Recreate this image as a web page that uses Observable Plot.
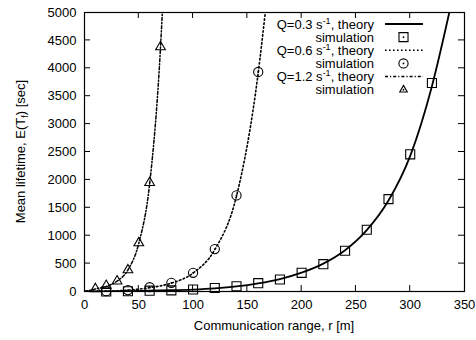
<!DOCTYPE html>
<html><head><meta charset="utf-8">
<script src="https://cdn.jsdelivr.net/npm/d3@7"></script>
<script src="https://cdn.jsdelivr.net/npm/@observablehq/plot@0.6"></script>
<style>
body{margin:0;background:#fff;}
#chart svg{font-family:"Liberation Sans",Arial,Helvetica,sans-serif;background:#fff;}
</style>
</head><body><div id="chart"></div>
<script>
// ---- data ----
const xTicks = [0, 50, 100, 150, 200, 250, 300, 350];
const yTicks = [0, 500, 1000, 1500, 2000, 2500, 3000, 3500, 4000, 4500, 5000];

// Q = 0.3 s^-1
const rTheory03 = [0, 20, 40, 60, 80, 100, 120, 140, 160, 180, 200, 220, 240, 260, 280, 300, 320, 336];
const theory03  = [0, 3, 8, 14, 22, 34, 55, 90, 145, 222, 338, 500, 740, 1100, 1630, 2430, 3680, 5000];
const rSim03 = [20, 40, 60, 80, 100, 120, 140, 160, 180, 200, 220, 240, 260, 280, 300, 320];
const sim03  = [0, 5, 15, 20, 36, 62, 95, 149, 215, 335, 490, 730, 1107, 1656, 2458, 3737];

// Q = 0.6 s^-1
const rTheory06 = [0, 20, 40, 60, 80, 100, 120, 140, 160, 166.5];
const theory06  = [0, 6, 25, 68, 150, 330, 750, 1710, 3920, 5000];
const rSim06 = [20, 40, 60, 80, 100, 120, 140, 160];
const sim06  = [5, 25, 77, 156, 335, 760, 1722, 3934];

// Q = 1.2 s^-1
const rTheory12 = [0, 10, 20, 30, 40, 50, 60, 70, 71.7];
const theory12  = [0, 45, 92, 185, 385, 865, 1930, 4370, 5000];
const rSim12 = [10, 20, 30, 40, 50, 60, 70];
const sim12  = [48, 105, 185, 385, 870, 1950, 4383];

const legendLabels = ["Q=0.3 s", "Q=0.6 s", "Q=1.2 s"];

// ---- tables ----
const zip = (xs, ys) => xs.map((x, i) => ({r: x, v: ys[i]}));
const t03 = zip(rTheory03, theory03), t06 = zip(rTheory06, theory06), t12 = zip(rTheory12, theory12);
const s03 = zip(rSim03, sim03), s06 = zip(rSim06, sim06), s12 = zip(rSim12, sim12);

const styles = [
  {stroke: "black", strokeWidth: 1.8},
  {stroke: "black", strokeWidth: 1.6, strokeDasharray: "1.6,2.4"},
  {stroke: "black", strokeWidth: 1.5, strokeDasharray: "3,2,1.2,2"}
];

const chart = Plot.plot({
  width: 476, height: 340,
  marginLeft: 84, marginRight: 12, marginTop: 12, marginBottom: 49,
  style: {fontFamily: '"Liberation Sans", Arial, sans-serif', fontSize: "13px", color: "black", background: "white"},
  x: {domain: [0, 350]},
  y: {domain: [0, 5000]},
  marks: [
    Plot.axisX({ticks: xTicks, tickSize: 0, tickPadding: 8, tickFormat: "d", label: null, fontSize: 13}),
    Plot.axisY({ticks: yTicks, tickSize: 0, tickPadding: 8, tickFormat: "d", label: null, fontSize: 13}),
    Plot.line(t03, {x: "r", y: "v", curve: "monotone-x", clip: true, ...styles[0]}),
    Plot.line(t06, {x: "r", y: "v", curve: "monotone-x", clip: true, ...styles[1]}),
    Plot.line(t12, {x: "r", y: "v", curve: "monotone-x", clip: true, ...styles[2]}),
    Plot.dot(s03, {x: "r", y: "v", symbol: "square", r: 5.1, stroke: "black", strokeWidth: 1.1, fill: "none"}),
    Plot.dot(s06, {x: "r", y: "v", symbol: "circle", r: 4.6, stroke: "black", strokeWidth: 1.1, fill: "none"}),
    Plot.dot(s06, {x: "r", y: "v", symbol: "circle", r: 0.9, fill: "black", stroke: "none"}),
    Plot.dot(s12, {x: "r", y: "v", symbol: "triangle", r: 3.6, stroke: "black", strokeWidth: 1.1, fill: "none"}),
    Plot.frame({stroke: "black", strokeWidth: 1.2})
  ]
});
document.getElementById("chart").append(chart);

// ---- inward ticks, titles, legend ----
const svg = d3.select(chart);
const sx = chart.scale("x"), sy = chart.scale("y");
const X0 = sx.apply(0), X1 = sx.apply(350), Y0 = sy.apply(0), Y1 = sy.apply(5000);
const TL = 6;
const g = svg.append("g").attr("stroke", "black").attr("stroke-width", 1);
xTicks.slice(1, -1).forEach(t => {
  const x = sx.apply(t);
  g.append("line").attr("x1", x).attr("x2", x).attr("y1", Y0).attr("y2", Y0 - TL);
  g.append("line").attr("x1", x).attr("x2", x).attr("y1", Y1).attr("y2", Y1 + TL);
});
yTicks.slice(1, -1).forEach(t => {
  const y = sy.apply(t);
  g.append("line").attr("x1", X0).attr("x2", X0 + TL).attr("y1", y).attr("y2", y);
  g.append("line").attr("x1", X1).attr("x2", X1 - TL).attr("y1", y).attr("y2", y);
});

const txt = svg.append("g").attr("fill", "black").attr("font-size", 13)
  .attr("font-family", '"Liberation Sans", Arial, sans-serif');
txt.append("text").attr("x", (X0 + X1) / 2).attr("y", 330).attr("text-anchor", "middle")
  .text("Communication range, r [m]");
const yl = txt.append("text").attr("transform", `translate(25,${(Y0 + Y1) / 2}) rotate(-90)`)
  .attr("text-anchor", "middle");
yl.append("tspan").text("Mean lifetime, E(T");
yl.append("tspan").attr("font-size", 9).attr("dy", 3).text("f");
yl.append("tspan").attr("dy", -3).text(") [sec]");

// legend
const lx = 374, lineX1 = 385, lineX2 = 423, symX = 403.5;
const rowY = i => 24 + 13.15 * i;
legendLabels.forEach((lab, k) => {
  const yA = rowY(2 * k), yB = rowY(2 * k + 1);
  const t = txt.append("text").attr("x", lx).attr("y", yA + 4.6).attr("text-anchor", "end");
  t.append("tspan").text(lab);
  t.append("tspan").attr("font-size", 9).attr("dy", -5).text("-1");
  t.append("tspan").attr("dy", 5).text(", theory");
  txt.append("text").attr("x", lx).attr("y", yB + 4.6).attr("text-anchor", "end").text("simulation");
  const st = styles[k];
  svg.append("line").attr("x1", lineX1).attr("x2", lineX2).attr("y1", yA).attr("y2", yA)
    .attr("stroke", "black").attr("stroke-width", st.strokeWidth)
    .attr("stroke-dasharray", st.strokeDasharray || null);
  const sym = k === 0 ? d3.symbolSquare : k === 1 ? d3.symbolCircle : d3.symbolTriangle2;
  const rr = k === 0 ? 5.1 : k === 1 ? 4.6 : 3.6;
  svg.append("path").attr("transform", `translate(${symX},${yB})`)
    .attr("d", d3.symbol(sym, rr * rr * Math.PI)()).attr("fill", "none")
    .attr("stroke", "black").attr("stroke-width", 1.1);
  svg.append("circle").attr("cx", symX).attr("cy", yB).attr("r", 0.9).attr("fill", "black");
});
</script></body></html>
